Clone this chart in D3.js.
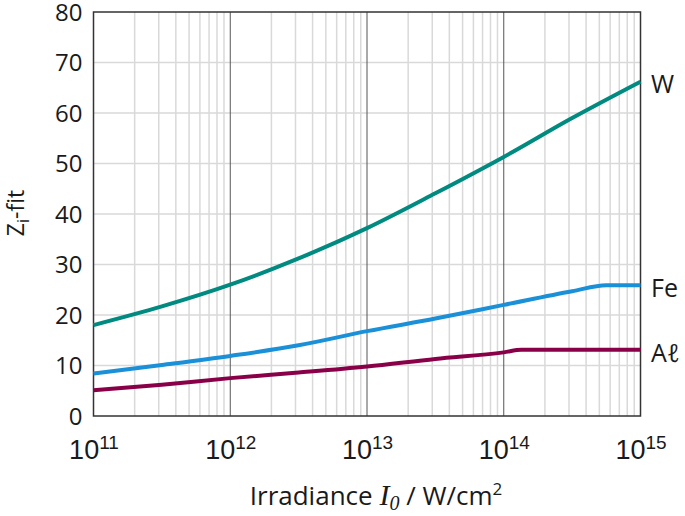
<!DOCTYPE html>
<html><head><meta charset="utf-8">
<script src="https://cdn.jsdelivr.net/npm/d3@7"></script>
<style>
body{margin:0;background:#fff;}
svg{display:block;font-family:"Open Sans",sans-serif;}
</style></head>
<body><svg id="c" width="685" height="516"></svg>
<script>
// Data (x = log10 irradiance, y = Zi-fit)
const seriesNames = ["W", "Fe", "A\u2113"];
const colors = ["#008a80", "#1a90d8", "#8a0048"];
const wX = [11, 11.5, 12, 12.5, 13, 13.5, 14, 14.5, 15];
const wY = [18.0, 21.7, 26.0, 31.2, 37.2, 44.1, 51.3, 59.0, 66.2];
const feX = [11, 11.5, 12, 12.5, 13, 13.5, 14, 14.5, 14.75, 15];
const feY = [8.4, 10.1, 11.9, 14.0, 16.8, 19.3, 22.0, 24.7, 25.9, 25.9];
const alX = [11, 11.5, 12, 12.5, 13, 13.5, 14, 14.13, 15];
const alY = [5.1, 6.2, 7.5, 8.6, 9.8, 11.3, 12.6, 13.1, 13.1];
const yTicks = [0, 10, 20, 30, 40, 50, 60, 70, 80];
const xTickExps = [11, 12, 13, 14, 15];

const svg = d3.select("#c");
const L = 93.5, R = 640.5, T = 12, B = 416;
const x = d3.scaleLog().domain([1e11, 1e15]).range([L, R]);
const y = d3.scaleLinear().domain([0, 80]).range([B, T]);

// minor vertical grid
const minor = [];
for (let e = 11; e < 15; e++) for (let m = 2; m <= 9; m++) minor.push(m * Math.pow(10, e));
svg.append("g").selectAll("line").data(minor).join("line")
  .attr("x1", d => x(d)).attr("x2", d => x(d)).attr("y1", T).attr("y2", B)
  .attr("stroke", "#d9d9d9").attr("stroke-width", 1.5);
// horizontal grid
svg.append("g").selectAll("line").data(yTicks.slice(1, -1)).join("line")
  .attr("x1", L).attr("x2", R).attr("y1", d => y(d)).attr("y2", d => y(d))
  .attr("stroke", "#d9d9d9").attr("stroke-width", 1.5);
// major vertical grid
svg.append("g").selectAll("line").data(xTickExps.slice(1, -1)).join("line")
  .attr("x1", d => x(Math.pow(10, d))).attr("x2", d => x(Math.pow(10, d))).attr("y1", T).attr("y2", B)
  .attr("stroke", "#555").attr("stroke-width", 1);

// axes
const xAxis = svg.append("g").attr("transform", `translate(0,${B})`)
  .call(d3.axisBottom(x).tickValues(xTickExps.map(e => Math.pow(10, e))).tickSize(0).tickPadding(0).tickFormat(""));
xAxis.select(".domain").remove();
xAxis.selectAll(".tick text").remove();
xAxis.selectAll(".tick").append("text")
  .attr("y", 43).attr("fill", "#1a1a1a").attr("text-anchor", "middle")
  .each(function(d) {
    const t = d3.select(this);
    t.append("tspan").attr("font-size", 27).text("10");
    t.append("tspan").attr("font-size", 19).attr("dy", -10).text(Math.round(Math.log10(d)));
  });

const yAxis = svg.append("g").attr("transform", `translate(${L},0)`)
  .call(d3.axisLeft(y).tickValues(yTicks).tickSize(0).tickPadding(11));
yAxis.select(".domain").remove();
yAxis.selectAll(".tick text").attr("font-size", 24).attr("fill", "#1a1a1a")
  .attr("font-family", "'Open Sans',sans-serif").attr("dy", "0.34em");

// frame
svg.append("rect").attr("x", L).attr("y", T).attr("width", R - L).attr("height", B - T)
  .attr("fill", "none").attr("stroke", "#333").attr("stroke-width", 1.5);

// lines
const line = d3.line().x(d => x(Math.pow(10, d[0]))).y(d => y(d[1])).curve(d3.curveMonotoneX);
const all = [d3.zip(wX, wY), d3.zip(feX, feY), d3.zip(alX, alY)];
all.forEach((pts, i) => {
  svg.append("path").datum(pts).attr("d", line).attr("fill", "none")
    .attr("stroke", colors[i]).attr("stroke-width", 4).attr("stroke-linejoin", "round");
});

// series labels
const lastY = [wY[wY.length - 1], feY[feY.length - 1], alY[alY.length - 1]];
svg.append("g").selectAll("text").data(seriesNames).join("text")
  .attr("x", 651).attr("y", (d, i) => y(lastY[i]) + 3)
  .attr("dy", "0.35em").attr("font-size", 25).attr("fill", "#1a1a1a").text(d => d);

// axis titles
const xt = svg.append("text").attr("x", 376).attr("y", 505).attr("text-anchor", "middle")
  .attr("font-size", 26).attr("fill", "#1a1a1a");
xt.append("tspan").text("Irradiance ");
xt.append("tspan").attr("font-family", "'Liberation Serif',serif").attr("font-style", "italic").attr("font-size", 30).text("I");
xt.append("tspan").attr("font-family", "'Liberation Serif',serif").attr("font-style", "italic").attr("font-size", 20).attr("dy", 5).text("0");
xt.append("tspan").attr("dy", -5).text(" / W/cm");
xt.append("tspan").attr("font-size", 17).attr("dy", -10).text("2");

const yt = svg.append("text").attr("transform", "translate(24,213) rotate(-90)")
  .attr("text-anchor", "middle").attr("font-size", 23).attr("fill", "#1a1a1a");
yt.append("tspan").text("Z");
yt.append("tspan").attr("font-size", 16).attr("dy", 5).text("i");
yt.append("tspan").attr("dy", -5).text("-fit");
</script></body></html>
